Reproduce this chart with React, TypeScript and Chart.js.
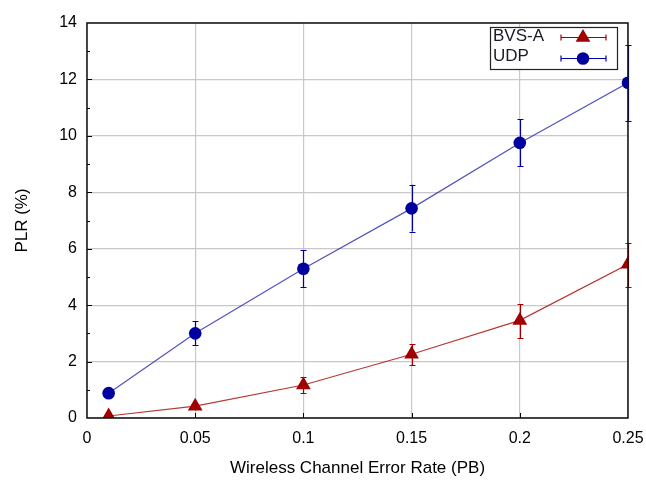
import React, { useEffect, useRef } from "react";
import { Chart, registerables } from "chart.js";

Chart.register(...registerables);

const xValues = [0.01, 0.05, 0.1, 0.15, 0.2, 0.25];
const bvsA = [0.07, 0.42, 1.17, 2.26, 3.46, 5.45];
const bvsALow = [0.04, 0.34, 0.88, 1.87, 2.83, 4.64];
const bvsAHigh = [0.1, 0.5, 1.45, 2.62, 4.03, 6.2];
const udp = [0.88, 3.0, 5.29, 7.43, 9.75, 11.88];
const udpLow = [0.82, 2.58, 4.64, 6.61, 8.92, 10.53];
const udpHigh = [0.94, 3.43, 5.95, 8.27, 10.58, 13.22];
const xTicks = [0, 0.05, 0.1, 0.15, 0.2, 0.25];
const seriesNames = ["BVS-A", "UDP"];
const RED = "#a00000";
const BLUE = "#0000a0";
const FONT = "'Liberation Sans', Arial, Helvetica, sans-serif";

const errorBarPlugin = {
  id: "errorBars",
  beforeDatasetsDraw(chart: any) {
    const ctx = chart.ctx;
    const xs = chart.scales.x;
    const ys = chart.scales.y;
    const sets = [
      { low: bvsALow, high: bvsAHigh, color: RED },
      { low: udpLow, high: udpHigh, color: BLUE },
    ];
    ctx.save();
    sets.forEach((s) => {
      ctx.strokeStyle = s.color;
      ctx.lineWidth = 1.2;
      xValues.forEach((xv, i) => {
        const px = Math.round(xs.getPixelForValue(xv)) + 0.5;
        const y1 = ys.getPixelForValue(s.low[i]);
        const y2 = ys.getPixelForValue(s.high[i]);
        ctx.beginPath();
        ctx.moveTo(px, y1);
        ctx.lineTo(px, y2);
        ctx.moveTo(px - 3, Math.round(y1) + 0.5);
        ctx.lineTo(px + 3, Math.round(y1) + 0.5);
        ctx.moveTo(px - 3, Math.round(y2) + 0.5);
        ctx.lineTo(px + 3, Math.round(y2) + 0.5);
        ctx.stroke();
      });
    });
    ctx.restore();
  },
};

const frameLegendPlugin = {
  id: "frameLegend",
  afterDraw(chart: any) {
    const ctx = chart.ctx;
    const a = chart.chartArea;
    const xs = chart.scales.x;
    const ys = chart.scales.y;
    ctx.save();
    ctx.strokeStyle = "#000";
    ctx.lineWidth = 1;
    ctx.beginPath();
    for (let v = 1; v < 14; v++) {
      const py = Math.round(ys.getPixelForValue(v)) + 0.5;
      const len = v % 2 === 0 ? 5 : 3;
      ctx.moveTo(a.left, py);
      ctx.lineTo(a.left + len, py);
    }
    xTicks.forEach((v) => {
      if (v === 0 || v === 0.25) return;
      const px = Math.round(xs.getPixelForValue(v)) + 0.5;
      ctx.moveTo(px, a.bottom);
      ctx.lineTo(px, a.bottom - 5);
    });
    ctx.stroke();
    ctx.lineWidth = 1.5;
    ctx.strokeStyle = "#111";
    ctx.strokeRect(a.left, a.top, a.right - a.left, a.bottom - a.top);

    const bx = 490, by = 27, bw = 127, bh = 42;
    ctx.fillStyle = "#fff";
    ctx.fillRect(bx, by, bw, bh);
    ctx.lineWidth = 1.2;
    ctx.strokeStyle = "#222";
    ctx.strokeRect(bx + 0.5, by + 0.5, bw, bh);
    ctx.font = `17px ${FONT}`;
    ctx.textBaseline = "middle";
    ctx.textAlign = "left";
    const rows = [
      { name: seriesNames[0], color: RED, ty: 36.5, y: 37.5, style: "triangle" },
      { name: seriesNames[1], color: BLUE, ty: 56.5, y: 58.5, style: "circle" },
    ];
    rows.forEach((r) => {
      ctx.fillStyle = "#1a1a2a";
      ctx.fillText(r.name, 493, r.ty);
      ctx.strokeStyle = r.color;
      ctx.lineWidth = 1.2;
      ctx.beginPath();
      ctx.moveTo(561, r.y);
      ctx.lineTo(606, r.y);
      ctx.moveTo(561, r.y - 3);
      ctx.lineTo(561, r.y + 3);
      ctx.moveTo(606, r.y - 3);
      ctx.lineTo(606, r.y + 3);
      ctx.stroke();
      ctx.fillStyle = r.color;
      if (r.style === "triangle") {
        const rr = 8.5;
        ctx.beginPath();
        ctx.moveTo(583, r.y - rr);
        ctx.lineTo(583 + rr * 0.866, r.y + rr / 2);
        ctx.lineTo(583 - rr * 0.866, r.y + rr / 2);
        ctx.closePath();
        ctx.fill();
      } else {
        ctx.beginPath();
        ctx.arc(583, r.y, 6.3, 0, Math.PI * 2);
        ctx.fill();
      }
    });
    ctx.restore();
  },
};

export default function App() {
  const ref = useRef<HTMLCanvasElement>(null);
  useEffect(() => {
    if (!ref.current) return;
    const chart = new Chart(ref.current, {
      type: "line",
      data: {
        datasets: [
          {
            label: seriesNames[0],
            data: xValues.map((x, i) => ({ x, y: bvsA[i] })),
            borderColor: "rgba(170,20,20,0.85)",
            backgroundColor: RED,
            borderWidth: 1.2,
            pointStyle: "triangle",
            pointRadius: 8.5,
            pointBorderWidth: 0,
            tension: 0,
          },
          {
            label: seriesNames[1],
            data: xValues.map((x, i) => ({ x, y: udp[i] })),
            borderColor: "rgba(40,40,170,0.8)",
            backgroundColor: BLUE,
            borderWidth: 1.2,
            pointStyle: "circle",
            pointRadius: 6.3,
            pointBorderWidth: 0,
            tension: 0,
          },
        ],
      },
      options: {
        animation: false,
        responsive: false,
        maintainAspectRatio: false,
        layout: { padding: { left: 0, top: 23, right: 18, bottom: 0 } },
        plugins: { legend: { display: false }, tooltip: { enabled: false } },
        scales: {
          x: {
            type: "linear",
            min: 0,
            max: 0.25,
            afterFit: (s: any) => {
              s.height = 62;
              s.paddingLeft = 0;
              s.paddingRight = 0;
            },
            afterBuildTicks: (s: any) => {
              s.ticks = xTicks.map((v) => ({ value: v }));
            },
            ticks: {
              color: "#000",
              padding: 11,
              font: { family: FONT, size: 16 },
              callback: (v: any) => String(v),
            },
            grid: { color: "#c8c8c8", lineWidth: 1.2, drawTicks: false },
            border: { display: false },
            title: {
              display: true,
              text: "Wireless Channel Error Rate (PB)",
              color: "#000",
              font: { family: FONT, size: 17 },
              padding: { top: 0, bottom: 1 },
            },
          },
          y: {
            type: "linear",
            min: 0,
            max: 14,
            afterFit: (s: any) => {
              s.width = 87;
            },
            ticks: {
              stepSize: 2,
              color: "#000",
              padding: 10,
              font: { family: FONT, size: 16 },
            },
            grid: { color: "#c8c8c8", lineWidth: 1.2, drawTicks: false },
            border: { display: false },
            title: {
              display: true,
              text: "PLR (%)",
              color: "#000",
              font: { family: FONT, size: 17 },
              padding: { top: 12, bottom: 0 },
            },
          },
        },
      },
      plugins: [errorBarPlugin, frameLegendPlugin],
    } as any);
    return () => chart.destroy();
  }, []);
  return (
    <div style={{ position: "fixed", left: 0, top: 0, width: 646, height: 480, background: "#fff" }}>
      <canvas ref={ref} width={646} height={480} style={{ width: 646, height: 480 }} />
    </div>
  );
}
